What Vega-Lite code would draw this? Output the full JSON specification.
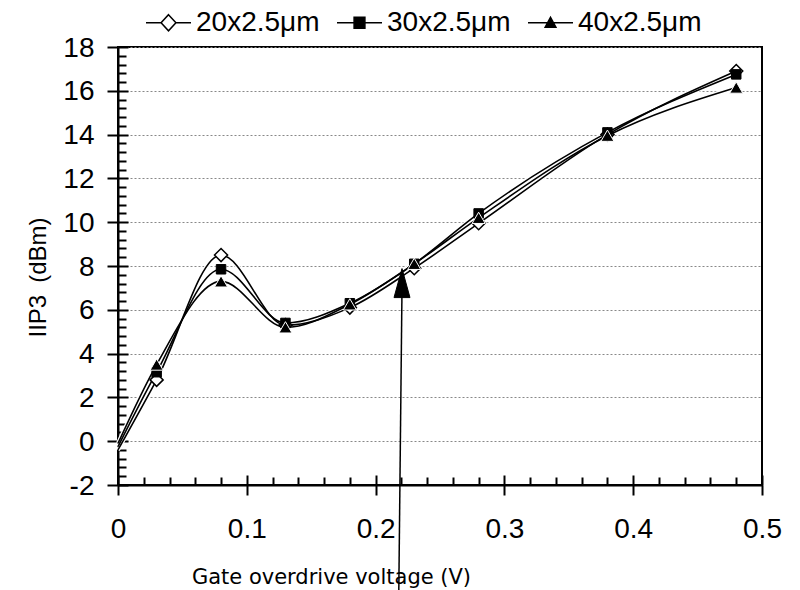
{
  "$schema": "https://vega.github.io/schema/vega-lite/v6.json",
  "width": 644,
  "height": 438,
  "autosize": {"type": "none"},
  "padding": {"left": 118, "top": 47, "right": 38, "bottom": 105},
  "background": "white",
  "config": {
    "view": {"stroke": "black", "strokeWidth": 2},
    "axis": {
      "domainColor": "black", "domainWidth": 2, "tickColor": "black", "tickWidth": 2,
      "labelFont": "Liberation Sans", "labelFontSize": 28, "labelColor": "black", "labelFlush": false, "labelOverlap": false,
      "titleFont": "Liberation Sans", "titleFontSize": 24, "titleColor": "black", "titleFontWeight": "normal"
    },
    "legend": {
      "labelFont": "Liberation Sans", "labelFontSize": 28, "labelColor": "black"
    }
  },
  "datasets": {
    "iip3": [
      {"series": "20x2.5μm", "x": 0, "y": -0.4},
      {"series": "20x2.5μm", "x": 0.03, "y": 2.8},
      {"series": "20x2.5μm", "x": 0.08, "y": 8.5},
      {"series": "20x2.5μm", "x": 0.13, "y": 5.3},
      {"series": "20x2.5μm", "x": 0.18, "y": 6.1},
      {"series": "20x2.5μm", "x": 0.23, "y": 7.9},
      {"series": "20x2.5μm", "x": 0.28, "y": 9.95},
      {"series": "20x2.5μm", "x": 0.38, "y": 14.0},
      {"series": "20x2.5μm", "x": 0.48, "y": 16.9},
      {"series": "30x2.5μm", "x": 0, "y": -0.25},
      {"series": "30x2.5μm", "x": 0.03, "y": 3.15},
      {"series": "30x2.5μm", "x": 0.08, "y": 7.85},
      {"series": "30x2.5μm", "x": 0.13, "y": 5.4},
      {"series": "30x2.5μm", "x": 0.18, "y": 6.3},
      {"series": "30x2.5μm", "x": 0.23, "y": 8.1},
      {"series": "30x2.5μm", "x": 0.28, "y": 10.4},
      {"series": "30x2.5μm", "x": 0.38, "y": 14.1},
      {"series": "30x2.5μm", "x": 0.48, "y": 16.75},
      {"series": "40x2.5μm", "x": 0, "y": -0.1},
      {"series": "40x2.5μm", "x": 0.03, "y": 3.5},
      {"series": "40x2.5μm", "x": 0.08, "y": 7.3},
      {"series": "40x2.5μm", "x": 0.13, "y": 5.2},
      {"series": "40x2.5μm", "x": 0.18, "y": 6.25},
      {"series": "40x2.5μm", "x": 0.23, "y": 8.1},
      {"series": "40x2.5μm", "x": 0.28, "y": 10.2},
      {"series": "40x2.5μm", "x": 0.38, "y": 13.95},
      {"series": "40x2.5μm", "x": 0.48, "y": 16.15}
    ],
    "arrow": [
      {"x": 0.218, "y": -6.9, "x2": 0.2205, "y2": 7.0}
    ],
    "arrowhead": [
      {"x": 0.2205, "y": 7.22}
    ]
  },
  "resolve": {
    "axis": {"x": "independent", "y": "independent"}
  },
  "layer": [
    {
      "data": {"name": "iip3"},
      "mark": {"type": "line", "interpolate": "monotone", "stroke": "white", "strokeWidth": 4},
      "encoding": {
        "x": {"field": "x", "type": "quantitative", "scale": {"domain": [0, 0.5], "nice": false},
          "axis": {"orient": "bottom", "values": [0, 0.1, 0.2, 0.3, 0.4, 0.5], "labelExpr": "'' + datum.value", "tickSize": 10, "labelBaseline": "alphabetic", "labelPadding": 42, "grid": false,
            "title": "Gate overdrive voltage (V)", "titleFont": "DejaVu Sans", "titleFontSize": 21, "titleX": 213, "titleY": 98, "titleBaseline": "alphabetic", "titleAlign": "center", "titleAnchor": null}},
        "y": {"field": "y", "type": "quantitative", "scale": {"domain": [-2, 18], "nice": false},
          "axis": {"orient": "left", "values": [-2, 0, 2, 4, 6, 8, 10, 12, 14, 16, 18], "labelExpr": "'' + datum.value", "tickSize": 11, "labelPadding": 13, "labelOffset": 1, "grid": true, "gridColor": "#888888", "gridDash": [2, 2], "gridWidth": 1,
            "title": "IIP3\u2002(dBm)", "titleX": -73, "titleY": 230, "titleAngle": -90, "titleBaseline": "alphabetic", "titleAlign": "center", "titleAnchor": null}},
        "detail": {"field": "series", "type": "nominal"}
      }
    },
    {
      "data": {"name": "iip3"},
      "mark": {"type": "line", "interpolate": "monotone", "stroke": "black", "strokeWidth": 1.6},
      "encoding": {
        "x": {"field": "x", "type": "quantitative", "scale": {"domain": [0, 0.5], "nice": false},
          "axis": {"orient": "bottom", "values": [0, 0.1, 0.2, 0.3, 0.4, 0.5], "tickSize": -10, "labels": false, "domain": false, "grid": false, "title": null}},
        "y": {"field": "y", "type": "quantitative", "scale": {"domain": [-2, 18], "nice": false},
          "axis": {"orient": "left", "values": [-2, 0, 2, 4, 6, 8, 10, 12, 14, 16, 18], "tickSize": -10, "labels": false, "domain": false, "grid": false, "title": null}},
        "detail": {"field": "series", "type": "nominal"}
      }
    },
    {
      "data": {"name": "iip3"},
      "transform": [{"filter": "datum.x > 0 && datum.series == '20x2.5μm'"}],
      "mark": {"type": "point", "shape": "diamond", "size": 170, "filled": true, "fill": "white", "stroke": "black", "strokeWidth": 1.5, "opacity": 1},
      "encoding": {
        "x": {"field": "x", "type": "quantitative", "scale": {"domain": [0, 0.5], "nice": false},
          "axis": {"orient": "bottom", "values": [0.02, 0.04, 0.06, 0.08, 0.12, 0.14, 0.16, 0.18, 0.22, 0.24, 0.26, 0.28, 0.32, 0.34, 0.36, 0.38, 0.42, 0.44, 0.46, 0.48], "tickSize": -8, "labels": false, "domain": false, "grid": false, "title": null}},
        "y": {"field": "y", "type": "quantitative", "scale": {"domain": [-2, 18], "nice": false},
          "axis": {"orient": "left", "values": [-1.6, -1.2, -0.8, -0.4, 0.4, 0.8, 1.2, 1.6, 2.4, 2.8, 3.2, 3.6, 4.4, 4.8, 5.2, 5.6, 6.4, 6.8, 7.2, 7.6, 8.4, 8.8, 9.2, 9.6, 10.4, 10.8, 11.2, 11.6, 12.4, 12.8, 13.2, 13.6, 14.4, 14.8, 15.2, 15.6, 16.4, 16.8, 17.2, 17.6], "tickSize": -8, "labels": false, "domain": false, "grid": false, "title": null}}
      }
    },
    {
      "data": {"name": "iip3"},
      "transform": [{"filter": "datum.x > 0 && datum.series == '30x2.5μm'"}],
      "mark": {"type": "point", "shape": "square", "size": 90, "filled": true, "fill": "black", "stroke": "black", "strokeWidth": 1, "opacity": 1},
      "encoding": {
        "x": {"field": "x", "type": "quantitative", "scale": {"domain": [0, 0.5], "nice": false}, "axis": null},
        "y": {"field": "y", "type": "quantitative", "scale": {"domain": [-2, 18], "nice": false}, "axis": null}
      }
    },
    {
      "data": {"name": "iip3"},
      "transform": [{"filter": "datum.x > 0 && datum.series == '40x2.5μm'"}],
      "mark": {"type": "point", "shape": "triangle-up", "size": 170, "filled": true, "fill": "black", "stroke": "white", "strokeWidth": 1, "opacity": 1},
      "encoding": {
        "x": {"field": "x", "type": "quantitative", "scale": {"domain": [0, 0.5], "nice": false}, "axis": null},
        "y": {"field": "y", "type": "quantitative", "scale": {"domain": [-2, 18], "nice": false}, "axis": null}
      }
    },
    {
      "data": {"name": "iip3"},
      "mark": {"type": "point", "filled": false, "stroke": "black", "strokeWidth": 1.5, "opacity": 0},
      "encoding": {
        "x": {"field": "x", "type": "quantitative", "scale": {"domain": [0, 0.5], "nice": false}, "axis": null},
        "y": {"field": "y", "type": "quantitative", "scale": {"domain": [-2, 18], "nice": false}, "axis": null},
        "shape": {"field": "series", "type": "nominal", "title": null,
          "scale": {"domain": ["20x2.5μm", "30x2.5μm", "40x2.5μm"],
            "range": ["M-1,0H-0.33M0.33,0H1M0,-0.36L0.33,0L0,0.36L-0.33,0Z", "M-1,0H-0.24M0.24,0H1M-0.24,-0.24H0.24V0.24H-0.24Z", "M-1,0H1M-0.24,0.2L0,-0.24L0.24,0.2Z"]},
          "legend": {"orient": "none", "legendX": 27, "legendY": -48, "direction": "horizontal", "symbolSize": 2025, "symbolStrokeColor": "black", "symbolStrokeWidth": 1.5, "symbolOpacity": 1, "labelOffset": 4, "columnPadding": 14, "padding": 0, "title": null,
            "encode": {"symbols": {"update": {"stroke": {"value": "black"}, "strokeWidth": {"value": 1.5}, "opacity": {"value": 1}, "strokeOpacity": {"value": 1}}}}}},
        "fill": {"field": "series", "type": "nominal", "title": null,
          "scale": {"domain": ["20x2.5μm", "30x2.5μm", "40x2.5μm"], "range": ["white", "black", "black"]},
          "legend": {"orient": "none", "legendX": 27, "legendY": -48, "direction": "horizontal", "symbolSize": 2025, "symbolStrokeColor": "black", "symbolStrokeWidth": 1.5, "symbolOpacity": 1, "labelOffset": 4, "columnPadding": 14, "padding": 0, "title": null,
            "encode": {"symbols": {"update": {"stroke": {"value": "black"}, "strokeWidth": {"value": 1.5}, "opacity": {"value": 1}, "strokeOpacity": {"value": 1}}}}}}
      }
    },
    {
      "data": {"name": "arrow"},
      "mark": {"type": "rule", "stroke": "black", "strokeWidth": 1.5, "clip": false},
      "encoding": {
        "x": {"field": "x", "type": "quantitative", "scale": {"domain": [0, 0.5], "nice": false}, "axis": null},
        "y": {"field": "y", "type": "quantitative", "scale": {"domain": [-2, 18], "nice": false}, "axis": null},
        "x2": {"field": "x2"},
        "y2": {"field": "y2"}
      }
    },
    {
      "data": {"name": "arrowhead"},
      "mark": {"type": "point", "shape": "M-0.55,1L0,-1L0.55,1Z", "size": 841, "filled": true, "fill": "black", "stroke": "black", "strokeWidth": 1, "opacity": 1},
      "encoding": {
        "x": {"field": "x", "type": "quantitative", "scale": {"domain": [0, 0.5], "nice": false}, "axis": null},
        "y": {"field": "y", "type": "quantitative", "scale": {"domain": [-2, 18], "nice": false}, "axis": null}
      }
    }
  ]
}
